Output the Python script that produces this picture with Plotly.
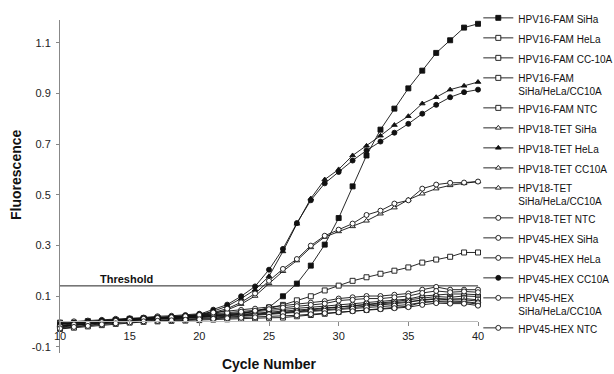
import plotly.graph_objects as go

cycles = list(range(10, 41))
THRESHOLD = 0.14

hpv16_siha = [-0.01, -0.005, 0.0, 0.0, 0.005, 0.01, 0.012, 0.015, 0.015, 0.018, 0.02,
              0.022, 0.025, 0.03, 0.04, 0.055, 0.099, 0.149, 0.22, 0.303, 0.408,
              0.533, 0.655, 0.757, 0.84, 0.92, 0.99, 1.06, 1.11, 1.16, 1.175]
hpv16_hela = [-0.005, -0.008, 0.0, -0.005, 0.005, 0.008, 0.01, 0.012, 0.01, 0.014, 0.018,
              0.02, 0.022, 0.025, 0.03, 0.033, 0.036, 0.04, 0.045, 0.05, 0.058,
              0.062, 0.068, 0.072, 0.078, 0.085, 0.092, 0.098, 0.095, 0.1, 0.098]
hpv16_cc10a = [-0.02, -0.015, -0.012, -0.006, 0.0, 0.004, 0.006, 0.008, 0.01, 0.012, 0.015,
               0.018, 0.02, 0.022, 0.026, 0.03, 0.034, 0.038, 0.04, 0.044, 0.05,
               0.055, 0.06, 0.065, 0.07, 0.075, 0.085, 0.09, 0.088, 0.09, 0.085]
hpv16_mix = [-0.02, -0.015, -0.01, -0.005, 0.0, 0.005, 0.008, 0.01, 0.012, 0.015, 0.018,
             0.022, 0.026, 0.032, 0.04, 0.05, 0.065, 0.083, 0.099, 0.122, 0.141,
             0.16, 0.174, 0.188, 0.2, 0.213, 0.232, 0.244, 0.255, 0.272, 0.272]
hpv16_ntc = [-0.03, -0.025, -0.02, -0.015, -0.01, -0.005, -0.002, 0.0, 0.002, 0.003, 0.005,
             0.007, 0.008, 0.01, 0.012, 0.014, 0.015, 0.02, 0.025, 0.03, 0.037,
             0.042, 0.045, 0.05, 0.055, 0.06, 0.075, 0.078, 0.075, 0.075, 0.068]

hpv18_siha = [-0.01, -0.005, -0.002, 0.002, 0.006, 0.01, 0.012, 0.014, 0.016, 0.018, 0.022,
              0.026, 0.03, 0.034, 0.038, 0.042, 0.046, 0.05, 0.056, 0.06, 0.065,
              0.07, 0.075, 0.08, 0.085, 0.088, 0.1, 0.105, 0.108, 0.108, 0.105]
hpv18_hela = [-0.015, -0.01, -0.005, 0.0, 0.005, 0.008, 0.01, 0.012, 0.015, 0.02, 0.025,
              0.04, 0.06, 0.09, 0.125, 0.178, 0.276, 0.385, 0.485, 0.56, 0.6,
              0.655, 0.693, 0.733, 0.775, 0.81, 0.86, 0.885, 0.915, 0.93, 0.945]
hpv18_cc10a = [-0.018, -0.012, -0.008, -0.004, 0.0, 0.005, 0.008, 0.01, 0.012, 0.015, 0.017,
               0.02, 0.024, 0.028, 0.032, 0.036, 0.04, 0.044, 0.048, 0.052, 0.056,
               0.06, 0.064, 0.068, 0.072, 0.078, 0.083, 0.088, 0.085, 0.085, 0.08]
hpv18_mix = [-0.025, -0.015, -0.01, -0.005, 0.0, 0.004, 0.008, 0.012, 0.014, 0.018, 0.022,
             0.03, 0.045, 0.068, 0.1, 0.15, 0.198, 0.24, 0.292, 0.333, 0.355,
             0.375, 0.397, 0.425, 0.449, 0.48, 0.504, 0.524, 0.537, 0.545, 0.552]
hpv18_ntc = [-0.025, -0.02, -0.015, -0.01, -0.005, 0.0, 0.002, 0.004, 0.006, 0.008, 0.01,
             0.013, 0.016, 0.02, 0.024, 0.028, 0.032, 0.035, 0.04, 0.042, 0.045,
             0.05, 0.055, 0.058, 0.062, 0.066, 0.075, 0.08, 0.08, 0.078, 0.072]

hpv45_siha = [-0.005, 0.0, 0.003, 0.006, 0.01, 0.012, 0.015, 0.02, 0.022, 0.025, 0.03,
              0.035, 0.04, 0.045, 0.05, 0.056, 0.062, 0.068, 0.074, 0.08, 0.09,
              0.095, 0.1, 0.1, 0.105, 0.11, 0.125, 0.136, 0.125, 0.125, 0.125]
hpv45_hela = [-0.012, -0.006, -0.002, 0.002, 0.006, 0.01, 0.012, 0.016, 0.018, 0.02, 0.025,
              0.03, 0.034, 0.038, 0.042, 0.048, 0.054, 0.06, 0.065, 0.07, 0.082,
              0.085, 0.09, 0.09, 0.095, 0.1, 0.112, 0.12, 0.115, 0.118, 0.115]
hpv45_cc10a = [-0.01, -0.005, 0.0, 0.003, 0.006, 0.01, 0.012, 0.015, 0.018, 0.022, 0.028,
               0.046, 0.066, 0.099, 0.138, 0.204, 0.286, 0.388, 0.478, 0.545, 0.59,
               0.635, 0.675, 0.71, 0.745, 0.78, 0.82, 0.855, 0.885, 0.905, 0.915]
hpv45_mix = [-0.02, -0.012, -0.008, -0.003, 0.002, 0.006, 0.01, 0.013, 0.016, 0.02, 0.025,
             0.035, 0.05, 0.075, 0.11, 0.16, 0.207, 0.246, 0.299, 0.338, 0.362,
             0.386, 0.42, 0.437, 0.465, 0.478, 0.524, 0.54, 0.547, 0.548, 0.552]
hpv45_ntc = [-0.028, -0.022, -0.018, -0.012, -0.008, -0.004, 0.0, 0.002, 0.004, 0.006, 0.008,
             0.01, 0.012, 0.014, 0.016, 0.018, 0.02, 0.024, 0.028, 0.032, 0.036,
             0.04, 0.044, 0.048, 0.052, 0.056, 0.065, 0.072, 0.07, 0.07, 0.062]

series_names = [
    "HPV16-FAM SiHa", "HPV16-FAM HeLa", "HPV16-FAM CC-10A",
    "HPV16-FAM<br>SiHa/HeLa/CC10A", "HPV16-FAM NTC",
    "HPV18-TET SiHa", "HPV18-TET HeLa", "HPV18-TET CC10A",
    "HPV18-TET<br>SiHa/HeLa/CC10A", "HPV18-TET NTC",
    "HPV45-HEX SiHa", "HPV45-HEX HeLa", "HPV45-HEX CC10A",
    "HPV45-HEX<br>SiHa/HeLa/CC10A", "HPV45-HEX NTC",
]
series_values = [
    hpv16_siha, hpv16_hela, hpv16_cc10a, hpv16_mix, hpv16_ntc,
    hpv18_siha, hpv18_hela, hpv18_cc10a, hpv18_mix, hpv18_ntc,
    hpv45_siha, hpv45_hela, hpv45_cc10a, hpv45_mix, hpv45_ntc,
]
series_symbols = [
    "square", "square", "square", "square", "square",
    "triangle-up", "triangle-up", "triangle-up", "triangle-up", "circle",
    "circle", "circle", "circle", "circle", "circle",
]
series_filled = [
    True, False, False, False, False,
    False, True, False, False, False,
    False, False, True, False, False,
]

FONT = "Liberation Sans, Arial, Helvetica, sans-serif"
INK = "#111"

fig = go.Figure()

fig.add_trace(go.Scatter(
    x=[cycles[0], cycles[-1]], y=[THRESHOLD, THRESHOLD], mode="lines",
    line=dict(color="#222", width=1), showlegend=False, hoverinfo="skip"))

for i, (name, vals, sym, filled) in enumerate(
        zip(series_names, series_values, series_symbols, series_filled)):
    fig.add_trace(go.Scatter(
        x=cycles, y=vals, name=name, mode="lines+markers", legendgroup=f"g{i}",
        line=dict(color=INK, width=0.9),
        marker=dict(symbol=sym, size=5, color=INK if filled else "white",
                    line=dict(color=INK, width=0.9)),
        cliponaxis=False,
    ))

fig.add_annotation(x=14.8, y=THRESHOLD, text="<b>Threshold</b>", showarrow=False,
                   yanchor="bottom", yshift=-1, font=dict(family=FONT, size=11, color=INK))

yr0, yr1 = -0.125, 1.19
fig.add_annotation(xref="paper", yref="paper", x=-0.105, y=0.535, text="<b>Fluorescence</b>",
                   textangle=-90, showarrow=False, xanchor="center", yanchor="middle",
                   font=dict(family=FONT, size=14, color=INK))

fig.update_layout(
    width=614, height=374,
    margin=dict(l=60, r=136, t=20, b=21, autoexpand=False),
    paper_bgcolor="white", plot_bgcolor="white",
    font=dict(family=FONT, color="#222"),
    legend=dict(
        xref="container", yref="container", x=0.779, y=0.987,
        xanchor="left", yanchor="top",
        font=dict(family=FONT, size=10, color=INK),
        itemwidth=30, valign="top",
        borderwidth=0, bgcolor="rgba(0,0,0,0)",
        tracegroupgap=1, maxheight=1.0,
    ),
    xaxis=dict(
        range=[10, 40], tickvals=[10, 15, 20, 25, 30, 35, 40],
        showgrid=False, zeroline=False, showline=True, linecolor="#bbb", linewidth=1,
        ticks="outside", ticklen=4, tickcolor="#888",
        anchor="free", position=(0 - yr0) / (yr1 - yr0),
        tickfont=dict(family=FONT, size=11, color="#222"),
        title=dict(text="<b>Cycle Number</b>", font=dict(family=FONT, size=14, color=INK),
                   standoff=18),
    ),
    yaxis=dict(
        range=[yr0, yr1], tickvals=[-0.1, 0.1, 0.3, 0.5, 0.7, 0.9, 1.1],
        ticktext=["-0.1", "0.1", "0.3", "0.5", "0.7", "0.9", "1.1"],
        showgrid=False, zeroline=False, showline=True, linecolor="#888", linewidth=1,
        ticks="outside", ticklen=3, tickcolor="#888", ticklabelstandoff=3,
        tickfont=dict(family=FONT, size=11, color="#222"),
    ),
)

fig.write_html("out.html", config={"displayModeBar": False},
               post_script="document.body.style.margin='0';")
